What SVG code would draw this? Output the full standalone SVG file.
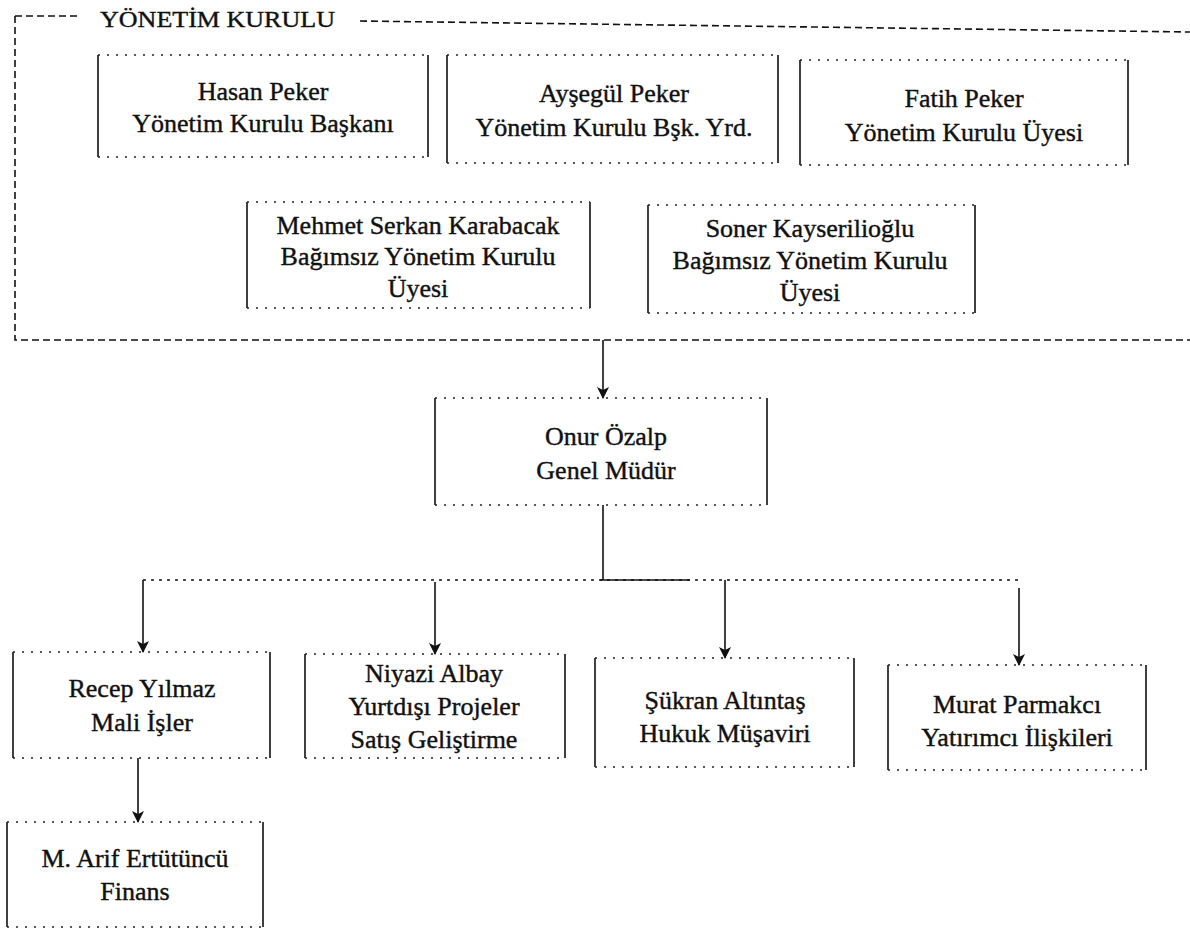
<svg xmlns="http://www.w3.org/2000/svg" width="1190" height="932" viewBox="0 0 1190 932">
<defs>
<style>
.side{fill:none;stroke:#111;stroke-width:1.6}
.dots{fill:none;stroke:#222;stroke-width:1.4;stroke-dasharray:2 7}
.outer{fill:none;stroke:#111;stroke-width:1.6;stroke-dasharray:7 4}
.conn{fill:none;stroke:#111;stroke-width:1.6}
.hconn{fill:none;stroke:#111;stroke-width:1.4;stroke-dasharray:3 5}
text{font-family:"Liberation Serif","Times New Roman",serif;font-size:26px;fill:#111;stroke:#111;stroke-width:0.4;text-anchor:middle}
.title{text-anchor:start}
</style>
<marker id="arrd" markerUnits="userSpaceOnUse" markerWidth="12" markerHeight="14" refX="6" refY="13" orient="0" viewBox="0 0 12 14">
<path d="M0,2 L6,5 L12,2 L6,14 Z" fill="#111"/>
</marker>
</defs>
<rect width="1190" height="932" fill="#fff"/>

<g id="yonetim-kurulu">
<path class="outer" d="M15,16 H80 M360,21 L1190,32 M15,16 V340 H1190"/>
<text class="title" x="100" y="27" textLength="235" lengthAdjust="spacingAndGlyphs" style="font-size:24px">YÖNETİM KURULU</text>
</g>

<g id="hasan-peker">
<path class="side" d="M98,55 V157 M428,55 V157"/>
<path class="dots" d="M98,55 H428 M98,157 H428"/>
<text x="263" y="100">Hasan Peker</text>
<text x="263" y="132">Yönetim Kurulu Başkanı</text>
</g>

<g id="aysegul-peker">
<path class="side" d="M447,55 V163 M778,55 V163"/>
<path class="dots" d="M447,55 H778 M447,163 H778"/>
<text x="614" y="102">Ayşegül Peker</text>
<text x="614" y="136">Yönetim Kurulu Bşk. Yrd.</text>
</g>

<g id="fatih-peker">
<path class="side" d="M800,60 V165 M1128,60 V165"/>
<path class="dots" d="M800,60 H1128 M800,165 H1128"/>
<text x="964" y="107">Fatih Peker</text>
<text x="964" y="141">Yönetim Kurulu Üyesi</text>
</g>

<g id="mehmet-serkan-karabacak">
<path class="side" d="M247,202 V308 M590,202 V308"/>
<path class="dots" d="M247,202 H590 M247,308 H590"/>
<text x="418" y="234">Mehmet Serkan Karabacak</text>
<text x="418" y="265">Bağımsız Yönetim Kurulu</text>
<text x="418" y="297">Üyesi</text>
</g>

<g id="soner-kayserilioglu">
<path class="side" d="M648,205 V313 M975,205 V313"/>
<path class="dots" d="M648,205 H975 M648,313 H975"/>
<text x="810" y="237">Soner Kayserilioğlu</text>
<text x="810" y="269">Bağımsız Yönetim Kurulu</text>
<text x="810" y="301">Üyesi</text>
</g>

<g id="onur-ozalp">
<path class="side" d="M435,398 V505 M767,398 V505"/>
<path class="dots" d="M435,398 H767 M435,505 H767"/>
<text x="606" y="445">Onur Özalp</text>
<text x="606" y="479">Genel Müdür</text>
</g>

<g id="recep-yilmaz">
<path class="side" d="M13,652 V758 M270,652 V758"/>
<path class="dots" d="M13,652 H270 M13,758 H270"/>
<text x="142" y="697">Recep Yılmaz</text>
<text x="142" y="731">Mali İşler</text>
</g>

<g id="niyazi-albay">
<path class="side" d="M305,654 V758 M565,654 V758"/>
<path class="dots" d="M305,654 H565 M305,758 H565"/>
<text x="434" y="682">Niyazi Albay</text>
<text x="434" y="715">Yurtdışı Projeler</text>
<text x="434" y="748">Satış Geliştirme</text>
</g>

<g id="sukran-altintas">
<path class="side" d="M595,658 V767 M854,658 V767"/>
<path class="dots" d="M595,658 H854 M595,767 H854"/>
<text x="725" y="709">Şükran Altıntaş</text>
<text x="725" y="742">Hukuk Müşaviri</text>
</g>

<g id="murat-parmakci">
<path class="side" d="M888,665 V770 M1146,665 V770"/>
<path class="dots" d="M888,665 H1146 M888,770 H1146"/>
<text x="1017" y="713">Murat Parmakcı</text>
<text x="1017" y="746">Yatırımcı İlişkileri</text>
</g>

<g id="arif-ertutuncu">
<path class="side" d="M7,822 V927 M263,822 V927"/>
<path class="dots" d="M7,822 H263 M7,927 H263"/>
<text x="135" y="867">M. Arif Ertütüncü</text>
<text x="135" y="900">Finans</text>
</g>

<g id="connectors">
<path class="conn" d="M603,340 V398" marker-end="url(#arrd)"/>
<path class="conn" d="M603,505 V580"/>
<path class="hconn" d="M143,580 H1019"/>
<path class="conn" d="M600,580 H690"/>
<path class="conn" d="M143,580 V652" marker-end="url(#arrd)"/>
<path class="conn" d="M435,582 V654" marker-end="url(#arrd)"/>
<path class="conn" d="M725,580 V658" marker-end="url(#arrd)"/>
<path class="conn" d="M1019,588 V665" marker-end="url(#arrd)"/>
<path class="conn" d="M138,758 V822" marker-end="url(#arrd)"/>
</g>
</svg>
